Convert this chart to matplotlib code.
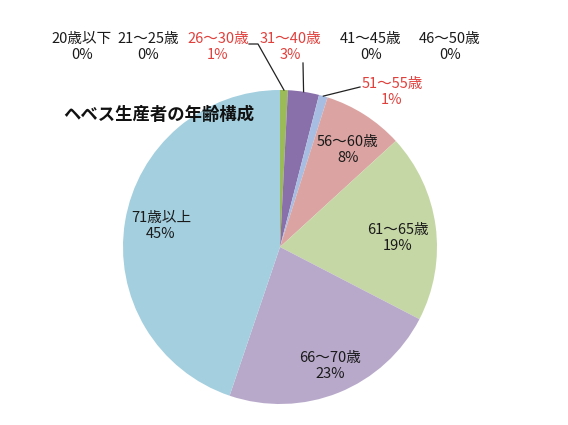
import matplotlib
matplotlib.use("Agg")
import matplotlib.pyplot as plt
import numpy as np

plt.rcParams['font.family'] = ['Noto Sans CJK JP', 'DejaVu Sans']

# data
categories = ['20歳以下', '21〜25歳', '26〜30歳', '31〜40歳', '41〜45歳', '46〜50歳',
              '51〜55歳', '56〜60歳', '61〜65歳', '66〜70歳', '71歳以上']
shares = [0, 0, 0.8, 3.2, 0, 0, 0.9, 8.3, 19.4, 22.6, 44.8]
colors = ['#9bbb59', '#9bbb59', '#9bbb59', '#8a70aa', '#a8bde2', '#a8bde2',
          '#a8bde2', '#dba4a2', '#c6d7a6', '#b8a9cb', '#a3cfdf']
title = 'ヘベス生産者の年齢構成'

W, H = 568, 425
fig = plt.figure(figsize=(W / 100, H / 100), dpi=100)
ax = fig.add_axes([0, 0, 1, 1])

cx, cy, r = 280, H - 247, 157
wedges, _ = ax.pie(shares, colors=colors, startangle=90, counterclock=False,
                   center=(cx, cy), radius=r, frame=True,
                   wedgeprops=dict(linewidth=0))
ax.set_xlim(0, W)
ax.set_ylim(0, H)
ax.set_aspect('equal')
ax.axis('off')

# label positions (pixel coords from top-left), leader start points
label_pos = [(82, 47), (148, 47), (218, 47), (290, 47), (371, 47), (450, 47),
             (392, 92), (348, 150), (398, 238), (330, 366), (161, 226)]
red = '#e0403c'
dark = '#1a1a1a'
leaders = {2: [(249, 44), (258, 44)], 3: [(303, 63)], 6: [(360, 87)]}

for i, (cat, val) in enumerate(zip(categories, shares)):
    x, y = label_pos[i]
    col = red if i in leaders else dark
    ax.text(x, H - y, f'{cat}\n{round(val)}%', ha='center', va='center',
            fontsize=10.5, color=col, linespacing=1.15)
    if i in leaders:
        w = wedges[i]
        mid = np.deg2rad((w.theta1 + w.theta2) / 2)
        ex, ey = cx + r * np.cos(mid), cy + r * np.sin(mid)
        pts = leaders[i]
        xs = [p[0] for p in pts] + [ex]
        ys = [H - p[1] for p in pts] + [ey]
        ax.plot(xs, ys, color='#222222', linewidth=0.9)

ax.text(63, H - 115, title, ha='left', va='center', fontsize=12.5,
        fontweight='bold', color='#111111')

fig.savefig('out.png', dpi=100)
